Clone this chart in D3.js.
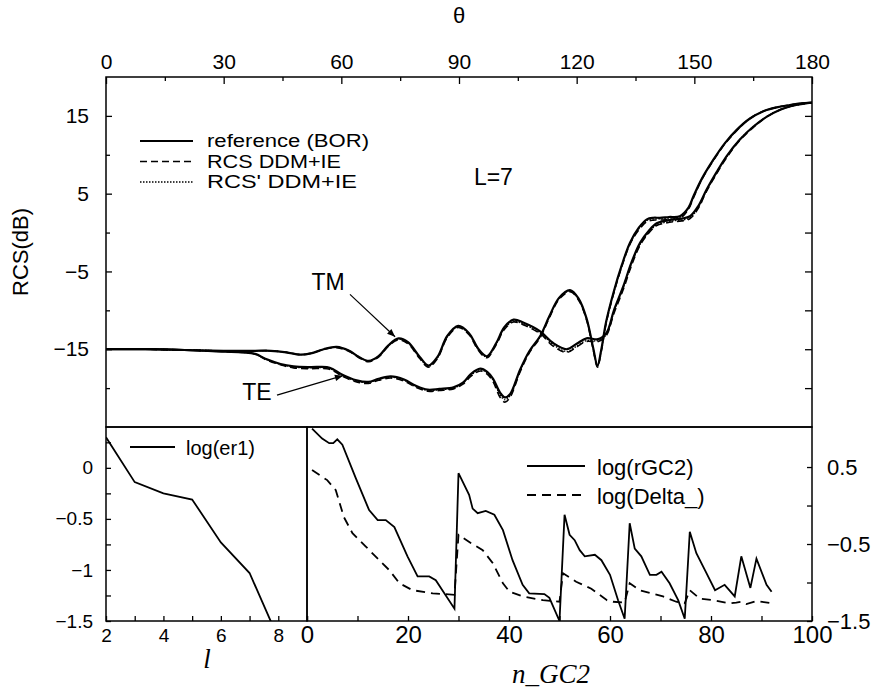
<!DOCTYPE html>
<html>
<head>
<meta charset="utf-8">
<script src="https://cdn.jsdelivr.net/npm/d3@7"></script>
<style>
  body { margin: 0; background: #fff; }
  svg text { font-family: "Liberation Sans", Arial, Helvetica, sans-serif; fill: #000; }
</style>
</head>
<body>
<div id="chart"></div>
<script>
// ---- data ----
// upper panel : RCS(dB) vs theta, L=7
var thetaTM = [0,10,20,30,38, 42,46,49.5,52.5,55.5, 58.8,62,64.5,67,69.5, 72,74.6,77,80,82.2, 84.5,87,89.8,92.5,95, 97.1,99.5,101.5,103.9,106.5, 110.7,114,117.5,120,122.5, 125.5,127.6,129.5,131.9,134, 136.2,138.5,140.4,142.5,144.6, 146.8,148.9,151,153.1,155.6, 158.2,161.5,165,168.5,171.9, 176,180];
var tmRef  = [-15,-15,-15.1,-15.2,-15.2, -15.2,-15.4,-15.7,-15.5,-15.0, -14.7,-15.2,-16.0,-16.5,-15.9, -14.5,-13.6,-14.1,-16.0,-17.1, -16.0,-13.3,-12.0,-12.9,-15.0, -15.9,-14.2,-12.2,-11.2,-11.6, -12.7,-14.2,-15.0,-14.3,-13.6, -13.7,-12.9,-10.0,-6.9,-3.8, -1.3,0.3,1.2,1.5,1.7, 1.8,2.1,3.4,5.5,7.7, 9.8,11.9,13.6,14.9,15.8, 16.4,16.7];
var tmRcs  = [-15,-15,-15.1,-15.2,-15.2, -15.2,-15.4,-15.7,-15.5,-15.0, -14.8,-15.3,-16.1,-16.6,-16.0, -14.6,-13.8,-14.3,-16.2,-17.3, -16.2,-13.5,-12.2,-13.1,-15.2, -16.1,-14.4,-12.5,-11.5,-11.9, -13.0,-14.6,-15.4,-14.7,-14.0, -14.0,-13.2,-10.4,-7.3,-4.2, -1.6,0.0,0.9,1.2,1.4, 1.5,1.8,3.1,5.3,7.5, 9.6,11.8,13.5,14.9,15.8, 16.4,16.7];
var tmRcs2 = [-15,-15,-15.1,-15.2,-15.2, -15.2,-15.4,-15.7,-15.5,-15.0, -14.7,-15.2,-16.0,-16.5,-15.9, -14.5,-13.7,-14.2,-16.1,-17.2, -16.1,-13.4,-12.1,-13.0,-15.1, -16.0,-14.3,-12.4,-11.4,-11.8, -12.9,-14.4,-15.3,-14.6,-13.9, -13.9,-13.1,-10.2,-7.1,-4.0, -1.5,0.1,1.0,1.3,1.5, 1.6,1.9,3.2,5.4,7.6, 9.7,11.9,13.6,14.9,15.8, 16.4,16.7];

var thetaTE = [0,10,20,30,35, 38,41,44.5,47.8,52, 56.3,58,60,63.9,66.9, 69.5,72.6,76,79,82, 85,88.6,91,93,95.4, 97.2,98.7,100.5,101.7,103, 105.6,108,110.7,113,115.5, 118.3,120.5,122.5,124.2,125.3, 126.3,127.5,129.4,131.5,133.6, 135.8,137.9,139.5,141.2,143.5, 146.3,148.5,149.8,152,154.9, 157.8,160.8,164,167.6,171, 174.4,177,180];
var teRef  = [-15,-15,-15.1,-15.3,-15.4, -15.6,-16.3,-16.9,-17.2,-17.3, -17.3,-17.6,-18.2,-19.0,-19.2, -18.8,-18.5,-18.9,-19.7,-20.2, -20.1,-19.9,-19.3,-18.2,-17.5, -17.9,-18.8,-20.6,-21.2,-20.8, -17.6,-15.2,-13.3,-10.8,-8.4, -7.4,-8.5,-11.0,-14.8,-17.1, -15.0,-11.5,-7.7,-4.2,-1.3, 0.6,1.7,1.9,1.9,2.0, 2.1,3.2,4.7,7.0,9.4, 11.5,13.2,14.6,15.6,16.1, 16.4,16.6,16.7];
var teRcs  = [-15,-15,-15.1,-15.3,-15.4, -15.6,-16.4,-17.0,-17.4,-17.5, -17.5,-17.8,-18.4,-19.2,-19.4, -19.0,-18.7,-19.1,-19.9,-20.4, -20.3,-20.1,-19.5,-18.5,-17.8, -18.2,-19.2,-21.2,-21.8,-21.2, -17.9,-15.4,-13.5,-11.0,-8.6, -7.6,-8.7,-11.2,-15.0,-17.3, -15.2,-11.7,-7.9,-4.4,-1.5, 0.3,1.4,1.6,1.6,1.7, 1.8,3.0,4.5,6.9,9.3, 11.4,13.1,14.6,15.6,16.1, 16.4,16.6,16.7];
var teRcs2 = [-15,-15,-15.1,-15.3,-15.4, -15.6,-16.35,-16.95,-17.3,-17.4, -17.4,-17.7,-18.3,-19.1,-19.3, -18.9,-18.6,-19.0,-19.8,-20.3, -20.2,-20.0,-19.4,-18.35,-17.65, -18.05,-19.0,-20.9,-21.5,-21.0, -17.75,-15.3,-13.4,-10.9,-8.5, -7.5,-8.6,-11.1,-14.9,-17.2, -15.1,-11.6,-7.8,-4.3,-1.4, 0.45,1.55,1.75,1.75,1.85, 1.95,3.1,4.6,6.95,9.35, 11.45,13.15,14.6,15.6,16.1, 16.4,16.6,16.7];

var topLegend = ["reference (BOR)", "RCS DDM+IE", "RCS' DDM+IE"];
var topLegendLen = [162, 134, 150];

// lower left : log(er1) vs l
var lVals   = [2,3,4,5,6,7,8];
var er1Vals = [0.3,-0.14,-0.25,-0.31,-0.73,-1.03,-1.67];

// lower right : log(rGC2), log(Delta_) vs n_GC2
var nRGC = [1,3,4.4,5.2,6,7,9.7,12.3,14,15.6,17.3,19.9,21.9,24.2,25.5,29.2,30,32.1,32.8,33.8,35.4,37.1,38.8,40.7,42.7,44,47,48,50,51,52,53,54,55,57,58.3,60,61.6,62.9,63.9,64.9,66.2,67.9,69.2,70.2,71.8,73.5,74.8,75.8,77.1,78.8,80.8,82.7,84.7,86,87.8,89,91,92];
var rGC2 = [1.0,0.87,0.81,0.81,0.86,0.79,0.35,-0.06,-0.19,-0.19,-0.28,-0.66,-0.92,-0.92,-0.97,-1.34,0.42,0.14,-0.04,-0.10,-0.07,-0.12,-0.32,-0.71,-1.03,-1.14,-1.15,-1.20,-1.50,-0.12,-0.38,-0.45,-0.58,-0.66,-0.64,-0.71,-0.90,-1.23,-1.47,-0.23,-0.56,-0.66,-0.90,-0.90,-0.86,-1.01,-1.23,-1.47,-0.34,-0.62,-0.84,-1.10,-1.03,-1.18,-0.66,-1.07,-0.69,-1.03,-1.12];
var nDelta = [1,4,5.7,7.3,9,11.6,14.3,16.3,18.3,20.9,24.9,29.2,30,32.5,34.8,36.8,38.8,40.1,42.7,46.7,50,50.7,53.3,56.3,59.4,60.6,62.9,63.9,65.9,68.2,70.5,73.1,74.8,75.8,77.8,80.4,83.7,85,86,87,89,92];
var delta  = [0.46,0.33,0.2,-0.15,-0.36,-0.53,-0.71,-0.84,-1.01,-1.10,-1.14,-1.16,-0.38,-0.49,-0.58,-0.75,-1.01,-1.12,-1.18,-1.23,-1.25,-0.88,-0.99,-1.08,-1.23,-1.25,-1.26,-1.01,-1.10,-1.14,-1.18,-1.25,-1.27,-1.10,-1.21,-1.23,-1.27,-1.26,-1.25,-1.28,-1.24,-1.27];

// ---- layout ----
var W = 885, H = 691;
var svg = d3.select("#chart").append("svg").attr("width", W).attr("height", H);

var x = d3.scaleLinear().domain([0,180]).range([106,812]);
var y = d3.scaleLinear().domain([-25,20]).range([427,77]);
var xl = d3.scaleLinear().domain([2,9]).range([106,307]);
var yl = d3.scaleLinear().domain([-1.5,0.4]).range([621,427]);
var xr = d3.scaleLinear().domain([0,100]).range([307,812]);
var yr = d3.scaleLinear().domain([-1.5,1.02]).range([621,427]);

function clip(id, x0, y0, x1, y1){
    svg.append("clipPath").attr("id", id).append("rect")
        .attr("x", x0).attr("y", y0).attr("width", x1-x0).attr("height", y1-y0);
}
clip("cTop", 106, 77, 812, 427);
clip("cBL", 106, 427, 307, 621);
clip("cBR", 307, 427, 812, 621);

function fixAxis(g, fs){
    g.select(".domain").remove();
    g.selectAll("line").attr("stroke", "#000").attr("stroke-width", 1.3);
    g.selectAll("text").style("font-size", fs + "px").attr("font-family", null);
}

// ---- upper panel axes ----
var gTop = svg.append("g").attr("transform", "translate(0,77)")
    .call(d3.axisTop(x).tickValues(d3.range(0,181,15)).tickSizeInner(-7).tickSizeOuter(0).tickPadding(8)
        .tickFormat(function(d){ return d % 30 == 0 ? d : ""; }));
fixAxis(gTop, 21);
gTop.selectAll(".tick line").attr("y2", function(d){ return d % 30 == 0 ? 7 : 4; });

var gLeft = svg.append("g").attr("transform", "translate(106,0)")
    .call(d3.axisLeft(y).tickValues(d3.range(-20,16,5)).tickSizeInner(-6).tickSizeOuter(0).tickPadding(17)
        .tickFormat(function(d){ return (d + 15) % 10 == 0 ? d3.format("")(d) : ""; }));
fixAxis(gLeft, 21);
gLeft.selectAll(".tick line").attr("x2", function(d){ return (d + 15) % 10 == 0 ? 6 : 4; });

var gRight = svg.append("g").attr("transform", "translate(812,0)")
    .call(d3.axisRight(y).tickValues(d3.range(-20,16,5)).tickSizeInner(-7).tickSizeOuter(0).tickFormat(""));
fixAxis(gRight, 21);

// ---- lower left axes ----
var gBLx = svg.append("g").attr("transform", "translate(0,621)")
    .call(d3.axisBottom(xl).tickValues(d3.range(2,10,1)).tickSizeInner(-5).tickSizeOuter(0).tickPadding(8)
        .tickFormat(function(d){ return d % 2 == 0 && d < 9 ? d : ""; }));
fixAxis(gBLx, 19);

var gBLy = svg.append("g").attr("transform", "translate(106,0)")
    .call(d3.axisLeft(yl).tickValues(d3.range(-1.5,0.3,0.25)).tickSizeInner(-5).tickSizeOuter(0).tickPadding(13)
        .tickFormat(function(d){ return Math.abs(d*2 - Math.round(d*2)) < 1e-6 ? d3.format("")(d) : ""; }));
fixAxis(gBLy, 19);

// ---- lower right axes ----
var gBRx = svg.append("g").attr("transform", "translate(0,621)")
    .call(d3.axisBottom(xr).tickValues(d3.range(0,101,10)).tickSizeInner(-5).tickSizeOuter(0).tickPadding(5)
        .tickFormat(function(d){ return d % 20 == 0 ? d : ""; }));
fixAxis(gBRx, 24);

var gBRy = svg.append("g").attr("transform", "translate(812,0)")
    .call(d3.axisRight(yr).tickValues([-1.5,-1,-0.5,0,0.5]).tickSizeInner(-5).tickSizeOuter(0).tickPadding(15)
        .tickFormat(function(d){ return [0.5,-0.5,-1.5].indexOf(d) >= 0 ? d3.format("")(d) : ""; }));
fixAxis(gBRy, 22);

// frames
[[106,77,812,427],[106,427,307,621],[307,427,812,621]].forEach(function(r){
    svg.append("rect").attr("x", r[0]).attr("y", r[1]).attr("width", r[2]-r[0]).attr("height", r[3]-r[1])
        .attr("fill", "none").attr("stroke", "#000").attr("stroke-width", 1.5);
});

// ---- upper panel curves ----
var styles = [
    {dash: null,      w: 2.2},
    {dash: "7,4",     w: 1.6},
    {dash: "1.5,1.5", w: 1.3}
];
var lineTop = d3.line().x(function(d){ return x(d[0]); }).y(function(d){ return y(d[1]); })
    .curve(d3.curveCatmullRom.alpha(0.5));
var gCurves = svg.append("g").attr("clip-path", "url(#cTop)");
[[thetaTM, tmRef, 0],[thetaTM, tmRcs, 1],[thetaTM, tmRcs2, 2],
 [thetaTE, teRef, 0],[thetaTE, teRcs, 1],[thetaTE, teRcs2, 2]].forEach(function(s){
    var pts = s[0].map(function(t, i){ return [t, s[1][i]]; });
    gCurves.append("path").attr("d", lineTop(pts)).attr("fill", "none").attr("stroke", "#000")
        .attr("stroke-width", styles[s[2]].w).attr("stroke-dasharray", styles[s[2]].dash);
});

// legend upper (tight rows, text stretched to the original width)
topLegend.forEach(function(name, i){
    var yy = 141 + i*20.5;
    svg.append("line").attr("x1", 140).attr("x2", 193).attr("y1", yy).attr("y2", yy)
        .attr("stroke", "#000").attr("stroke-width", styles[i].w).attr("stroke-dasharray", styles[i].dash);
    svg.append("text").attr("x", 207).attr("y", yy).attr("dy", "0.35em").style("font-size", "18px")
        .attr("textLength", topLegendLen[i]).attr("lengthAdjust", "spacingAndGlyphs").text(name);
});

// annotations (data coords)
svg.append("defs").append("marker").attr("id", "arr").attr("viewBox", "0 0 10 10")
    .attr("refX", 10).attr("refY", 5).attr("markerWidth", 10).attr("markerHeight", 8).attr("orient", "auto")
    .attr("markerUnits", "userSpaceOnUse")
    .append("path").attr("d", "M0,1 L10,5 L0,9 z").attr("fill", "#000");
var arrows = [[62.2,-7.95,73.7,-13.4],[43.6,-20.9,60.4,-18.4]];
arrows.forEach(function(a){
    svg.append("line").attr("x1", x(a[0])).attr("y1", y(a[1])).attr("x2", x(a[2])).attr("y2", y(a[3]))
        .attr("stroke", "#000").attr("stroke-width", 1.2).attr("marker-end", "url(#arr)");
});
var notes = [["TM",56.6,-6.4,"middle"],["TE",38.5,-20.5,"middle"],["L=7",93.8,7.2,"start"]];
notes.forEach(function(n){
    svg.append("text").attr("x", x(n[1])).attr("y", y(n[2])).attr("dy", "0.35em")
        .attr("text-anchor", n[3]).style("font-size", "23px").text(n[0]);
});

// titles
svg.append("text").attr("x", x(90)).attr("y", 15).attr("dy", "0.35em").attr("text-anchor", "middle")
    .style("font-size", "22px").text("θ");
svg.append("text").attr("transform", "translate(20,252) rotate(-90)").attr("dy", "0.35em")
    .attr("text-anchor", "middle").style("font-size", "22px").text("RCS(dB)");
svg.append("text").attr("x", 207).attr("y", 659).attr("dy", "0.35em").attr("text-anchor", "middle")
    .style("font-family", "'Liberation Serif', 'Times New Roman', serif").style("font-style", "italic")
    .style("font-size", "27px").text("l");
svg.append("text").attr("x", 551).attr("y", 683).attr("text-anchor", "middle")
    .style("font-family", "'Liberation Serif', 'Times New Roman', serif").style("font-style", "italic")
    .style("font-size", "27px").text("n_GC2");

// ---- lower left curve ----
var lineBL = d3.line().x(function(d){ return xl(d[0]); }).y(function(d){ return yl(d[1]); });
svg.append("path").attr("clip-path", "url(#cBL)")
    .attr("d", lineBL(lVals.map(function(l, i){ return [l, er1Vals[i]]; })))
    .attr("fill", "none").attr("stroke", "#000").attr("stroke-width", 1.8);
svg.append("line").attr("x1", 130).attr("x2", 175).attr("y1", 447).attr("y2", 447)
    .attr("stroke", "#000").attr("stroke-width", 1.8);
svg.append("text").attr("x", 186).attr("y", 448).attr("dy", "0.35em").style("font-size", "20px").text("log(er1)");

// ---- lower right curves ----
var lineBR = d3.line().x(function(d){ return xr(d[0]); }).y(function(d){ return yr(d[1]); });
var gBR = svg.append("g").attr("clip-path", "url(#cBR)");
gBR.append("path").attr("d", lineBR(nRGC.map(function(n, i){ return [n, rGC2[i]]; })))
    .attr("fill", "none").attr("stroke", "#000").attr("stroke-width", 1.8);
gBR.append("path").attr("d", lineBR(nDelta.map(function(n, i){ return [n, delta[i]]; })))
    .attr("fill", "none").attr("stroke", "#000").attr("stroke-width", 1.8).attr("stroke-dasharray", "9,6");
[["log(rGC2)", null, 466],["log(Delta_)", "9,6", 495]].forEach(function(l){
    svg.append("line").attr("x1", 527).attr("x2", 585).attr("y1", l[2]).attr("y2", l[2])
        .attr("stroke", "#000").attr("stroke-width", 1.8).attr("stroke-dasharray", l[1]);
    svg.append("text").attr("x", 597).attr("y", l[2] + 1).attr("dy", "0.35em").style("font-size", "22px").text(l[0]);
});
</script>
</body>
</html>
